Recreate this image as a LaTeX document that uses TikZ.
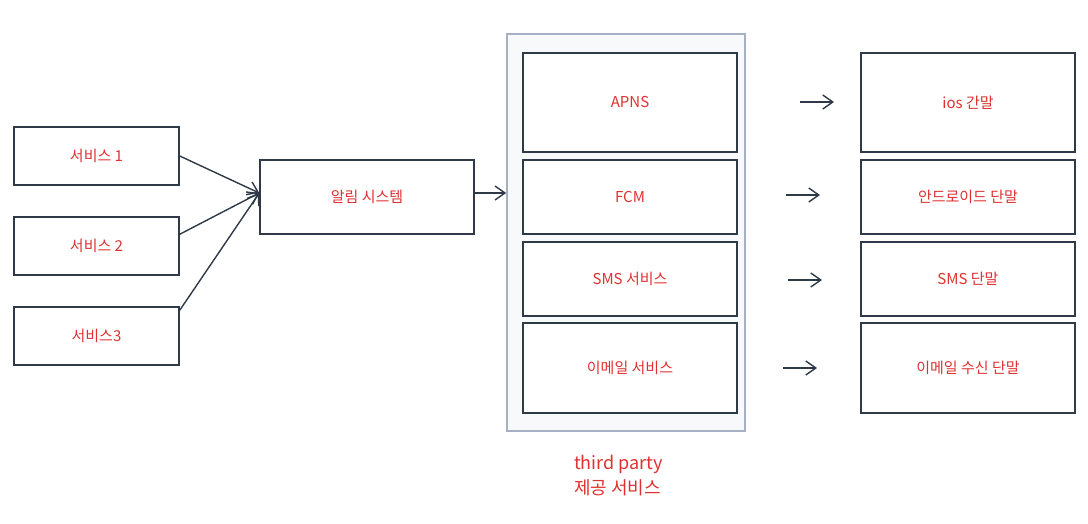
\documentclass[tikz,border=0pt]{standalone}
\usepackage{fontspec}
\setmainfont{Noto Sans CJK KR}
\usepackage{tikz}
\usetikzlibrary{arrows.meta, positioning}

\definecolor{inkc}{HTML}{2F3A48}
\definecolor{labelc}{HTML}{E03131}
\definecolor{groupc}{HTML}{A5B1C2}
\definecolor{groupfill}{HTML}{F8F9FB}

\tikzset{
    box/.style = {draw=inkc, line width=1.5pt, fill=white, text=labelc,
        minimum width=#1, font=\fontsize{15}{18}\selectfont, inner sep=0pt},
    box/.default = 214pt,
    group/.style = {draw=groupc, line width=1.6pt, fill=groupfill,
        minimum width=238pt, minimum height=397pt, inner sep=0pt},
    flow/.style = {draw=inkc, line width=1.4pt, -{Straight Barb[length=10pt,width=14pt]}}
}

\begin{document}
\begin{tikzpicture}[x=1pt, y=1pt]
        \useasboundingbox[fill=white] (0,0) rectangle (1088,-524);
        % senders
        \node[box=165pt, minimum height=58pt] (s1) at (96.5,-156) {서비스 1};
        \node[box=165pt, minimum height=58pt] (s2) at (96.5,-246) {서비스 2};
        \node[box=165pt, minimum height=58pt] (s3) at (96.5,-336) {서비스3};
        \node[box, minimum height=74pt] (noti) at (367,-197) {알림 시스템};
        % third party group
        \node[group] (tp) at (626,-232.5) {};
        \node[box, minimum height=99pt] (apns) at (630,-102.5) {APNS};
        \node[box, minimum height=74pt] (fcm) at (630,-197) {FCM};
        \node[box, minimum height=74pt] (sms) at (630,-279) {SMS 서비스};
        \node[box, minimum height=90pt] (mail) at (630,-368) {이메일 서비스};
        \node[anchor=north west, align=left, text=labelc, inner sep=0pt,
            font=\fontsize{18}{25}\selectfont] (tplabel) at (574,-455) {third party\\제공 서비스};
        % devices
        \node[box, minimum height=99pt] (ios) at (968,-102.5) {ios 간말};
        \node[box, minimum height=74pt] (android) at (968,-197) {안드로이드 단말};
        \node[box, minimum height=74pt] (smsdev) at (968,-279) {SMS 단말};
        \node[box, minimum height=90pt] (maildev) at (968,-368) {이메일 수신 단말};
        % connectors
        \coordinate (in) at ([yshift=4pt]noti.west);
        \draw[flow] (s1.east) -- (in);
        \draw[flow] ([yshift=-18pt]s2.north east) -- (in);
        \draw[flow] ([yshift=-4pt]s3.north east) -- (in);
        \draw[flow] ([yshift=4pt]noti.east) -- ([yshift=4pt]noti.east -| tp.west);
        \coordinate (a1s) at (800,-102); \coordinate (a1e) at (834,-102);
        \coordinate (a2s) at (786,-195); \coordinate (a2e) at (820,-195);
        \coordinate (a3s) at (788,-280); \coordinate (a3e) at (822,-280);
        \coordinate (a4s) at (783,-368); \coordinate (a4e) at (817,-368);
        \draw[flow] (a1s) -- (a1e);
        \draw[flow] (a2s) -- (a2e);
        \draw[flow] (a3s) -- (a3e);
        \draw[flow] (a4s) -- (a4e);
    \end{tikzpicture}
\end{document}
